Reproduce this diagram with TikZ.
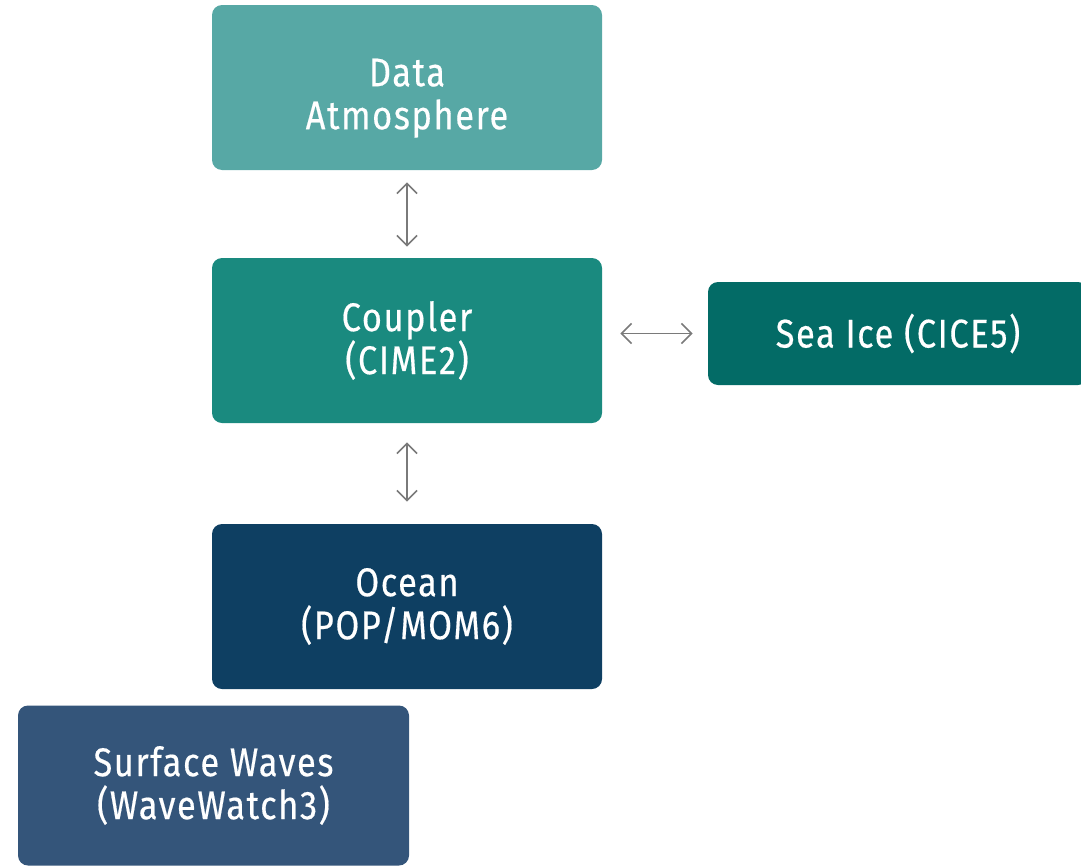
\documentclass[tikz,border=0pt]{standalone}
\usepackage{fontspec}
\setsansfont{Fira Sans}[FakeStretch=0.86, FakeBold=0.4, LetterSpace=4]
\usetikzlibrary{arrows.meta, positioning}
\definecolor{catm}{HTML}{57A8A5}
\definecolor{ccpl}{HTML}{1A8A7F}
\definecolor{cice}{HTML}{036B66}
\definecolor{cocn}{HTML}{0E3F62}
\definecolor{cwav}{HTML}{34557A}
\definecolor{cgrey}{HTML}{7A7A7A}
\tikzset{
  every picture/.style={font=\sffamily},
  box/.style={fill=#1, text=white, rounded corners=5pt, align=center,
    minimum width=195pt, minimum height=82.5pt, inner sep=0pt,
    font=\sffamily\fontsize{20}{21.5}\selectfont},
  box/.default=ccpl,
  arrow/.style={{Straight Barb[length=5pt, width=10pt]}-{Straight Barb[length=5pt, width=10pt]}, draw=cgrey, line width=0.8pt},
}
\begin{document}
\begin{tikzpicture}[x=0.5pt, y=-0.5pt]
  \useasboundingbox (0,0) rectangle (1081,867);
  \node[box=catm, text height=46pt] (atm) at (407,87.5) {Data\\Atmosphere};
  \node[box=ccpl] (cpl) at (407,340.5) {Coupler\\(CIME2)};
  \node[box=cice, minimum width=190pt, minimum height=51.5pt] (ice) at (898,333.5) {Sea Ice (CICE5)};
  \node[box=cocn] (ocn) at (407,606.5) {Ocean\\(POP/MOM6)};
  \node[box=cwav, minimum width=195.5pt, minimum height=80pt] (wav) at (213.5,785.5) {Surface Waves\\(WaveWatch3)};
  % connectors
  \draw[arrow, shorten <=6pt, shorten >=5.5pt] (atm) -- (cpl);
  \draw[arrow, shorten <=9.5pt, shorten >=11pt] (cpl) -- (ocn);
  \draw[arrow, shorten <=9pt, shorten >=7.5pt] (cpl.east |- ice.west) -- (ice.west);
\end{tikzpicture}
\end{document}
